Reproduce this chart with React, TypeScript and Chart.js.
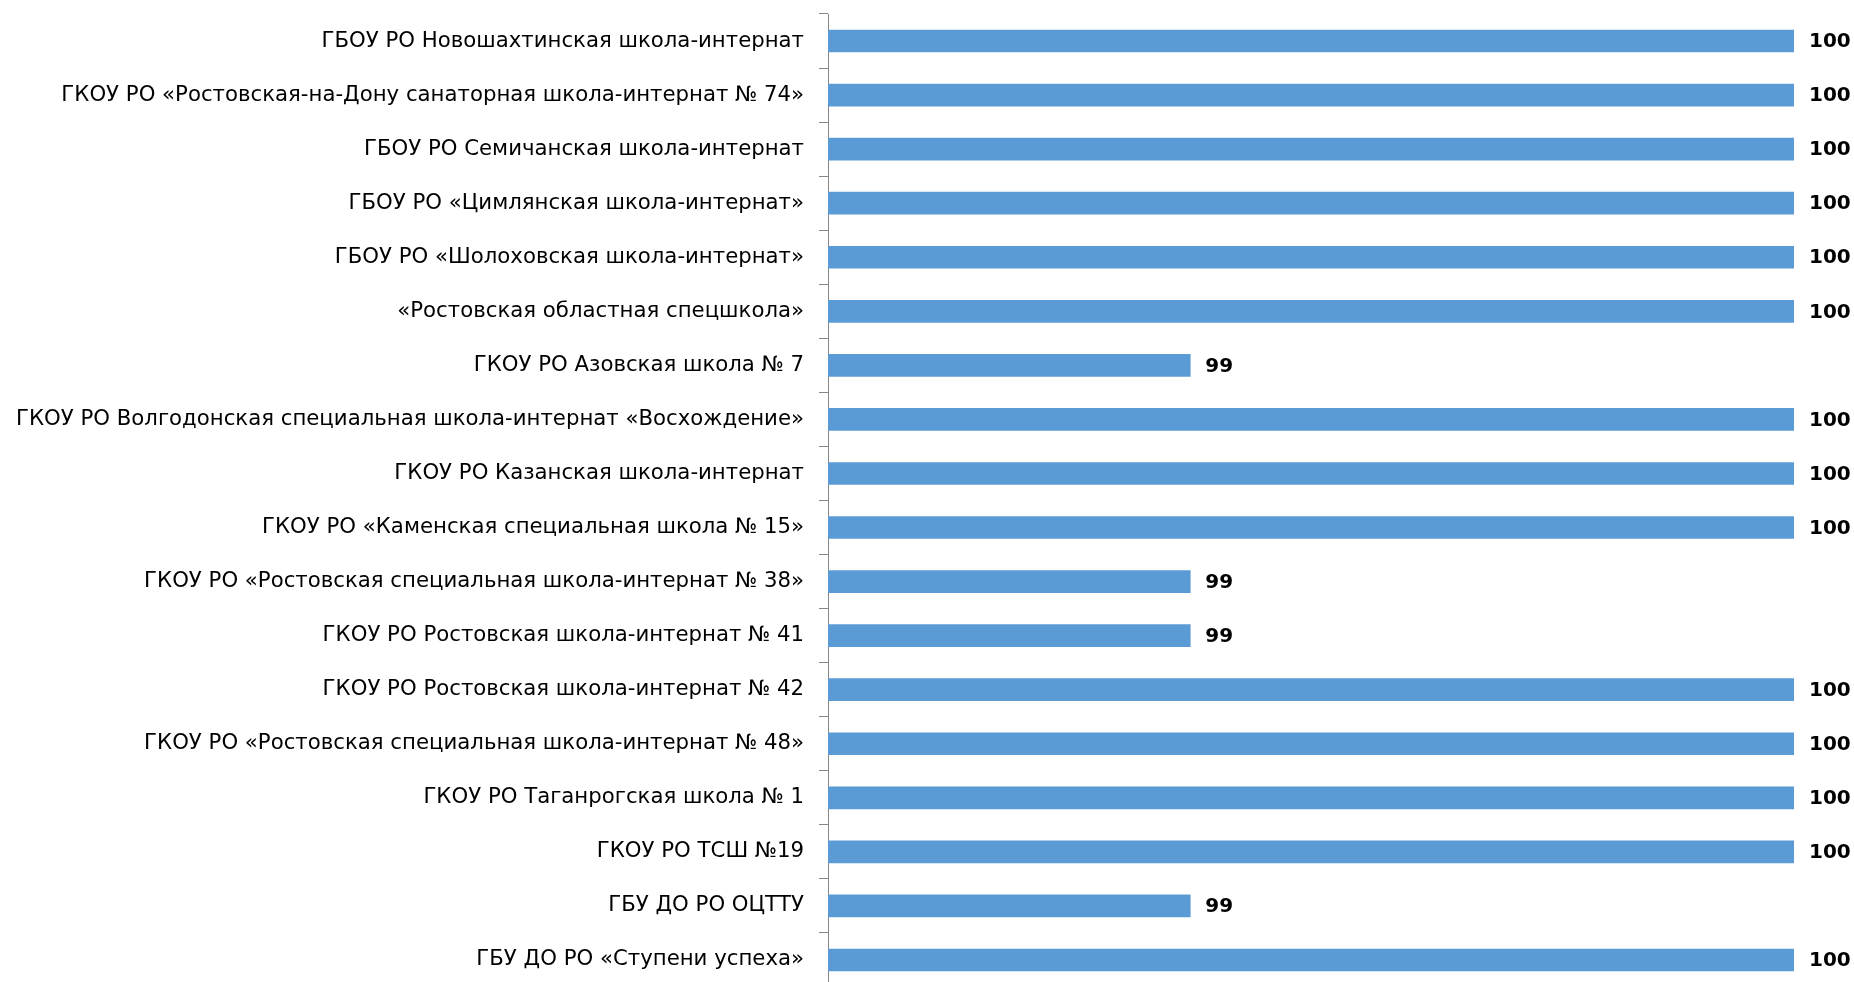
import React, { useEffect, useRef } from "react";
import { Chart, registerables } from "chart.js";

Chart.register(...registerables);

const categories: string[] = [
  "ГБОУ РО Новошахтинская школа-интернат",
  "ГКОУ РО «Ростовская-на-Дону санаторная школа-интернат № 74»",
  "ГБОУ РО Семичанская школа-интернат",
  "ГБОУ РО «Цимлянская школа-интернат»",
  "ГБОУ РО «Шолоховская школа-интернат»",
  "«Ростовская областная спецшкола»",
  "ГКОУ РО Азовская школа № 7",
  "ГКОУ РО Волгодонская специальная школа-интернат «Восхождение»",
  "ГКОУ РО Казанская школа-интернат",
  "ГКОУ РО «Каменская специальная школа № 15»",
  "ГКОУ РО «Ростовская специальная школа-интернат № 38»",
  "ГКОУ РО Ростовская школа-интернат № 41",
  "ГКОУ РО Ростовская школа-интернат № 42",
  "ГКОУ РО «Ростовская специальная школа-интернат № 48»",
  "ГКОУ РО Таганрогская школа № 1",
  "ГКОУ РО ТСШ №19",
  "ГБУ ДО РО ОЦТТУ",
  "ГБУ ДО РО «Ступени успеха»",
];

const values: number[] = [100, 100, 100, 100, 100, 100, 99, 100, 100, 100, 99, 99, 100, 100, 100, 100, 99, 100];

const xMin = 98.4;
const xMax = 100;

const valueLabelPlugin = {
  id: "valueLabels",
  afterDatasetsDraw(chart: any) {
    const ctx = chart.ctx;
    const meta = chart.getDatasetMeta(0);
    ctx.save();
    ctx.font = "bold 20px 'DejaVu Sans'";
    ctx.fillStyle = "#000000";
    ctx.textAlign = "left";
    ctx.textBaseline = "middle";
    meta.data.forEach((bar: any, i: number) => {
      ctx.fillText(String(values[i]), bar.x + 15, bar.y + 1);
    });
    ctx.restore();
  },
};

export default function App() {
  const ref = useRef<HTMLCanvasElement | null>(null);
  useEffect(() => {
    if (!ref.current) return;
    const chart = new Chart(ref.current, {
      type: "bar",
      data: {
        labels: categories,
        datasets: [
          {
            data: values,
            backgroundColor: "#5B9BD5",
            borderWidth: 0,
            barThickness: 22,
          },
        ],
      },
      options: {
        indexAxis: "y",
        animation: false,
        responsive: false,
        maintainAspectRatio: false,
        layout: { padding: { left: 0, right: 60, top: 14, bottom: 13 } },
        plugins: {
          legend: { display: false },
          tooltip: { enabled: false },
        },
        scales: {
          x: {
            display: false,
            min: xMin,
            max: xMax,
          },
          y: {
            afterFit: (s: any) => {
              s.width = 828;
              s.paddingTop = 0;
              s.paddingBottom = 0;
            },
            grid: {
              drawOnChartArea: false,
              drawTicks: true,
              tickLength: 9,
              color: "#868686",
              offset: true,
            },
            border: { color: "#868686", width: 1 },
            ticks: {
              color: "#000000",
              padding: 15,
              autoSkip: false,
              font: { family: "'DejaVu Sans'", size: 21.25 },
            },
          },
        },
      },
      plugins: [valueLabelPlugin],
    });
    return () => chart.destroy();
  }, []);
  return (
    <div style={{ position: "fixed", left: 0, top: 0, width: 1854, height: 982, overflow: "hidden", background: "#fff" }}>
      <canvas ref={ref} width={1854} height={1000} style={{ display: "block", width: 1854, height: 1000 }} />
    </div>
  );
}
